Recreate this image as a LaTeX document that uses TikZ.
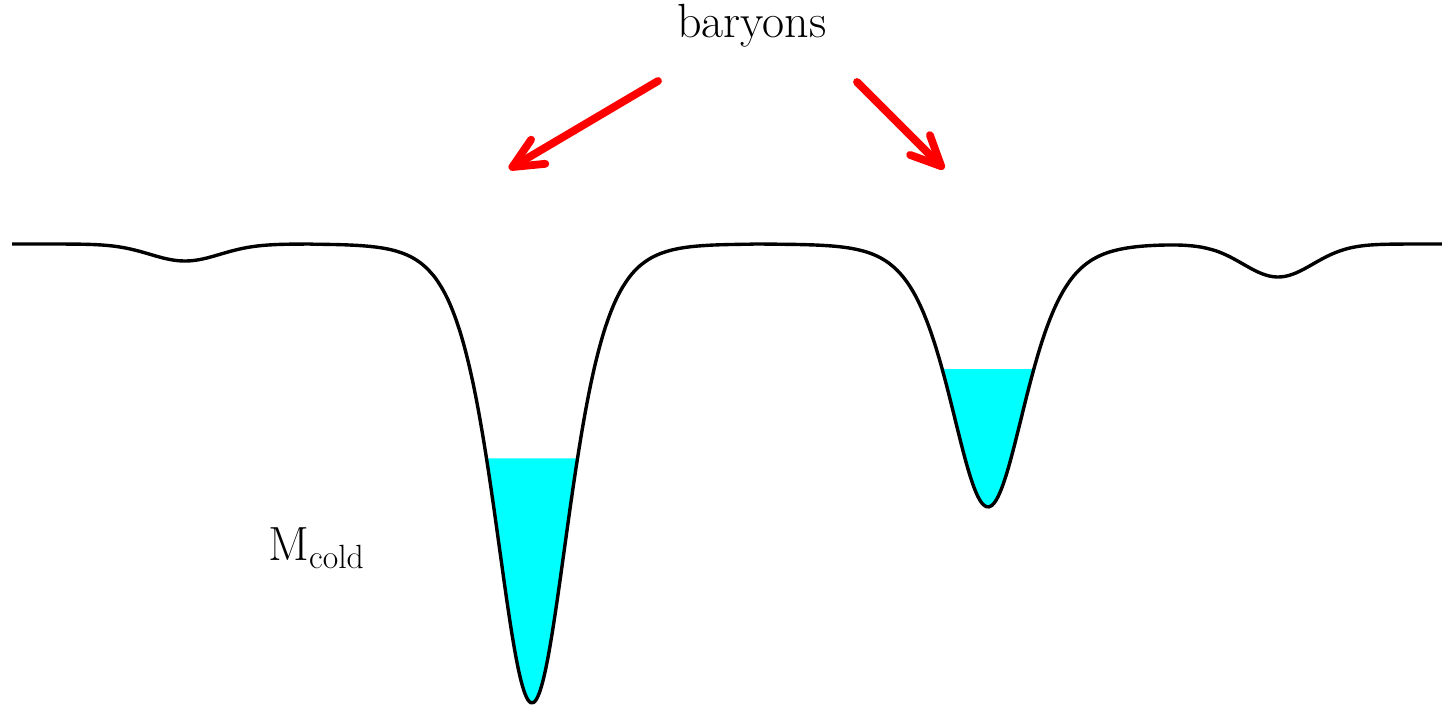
\documentclass[tikz,border=0pt]{standalone}
\usepackage{amsmath}
\usepackage{xcolor}
\usepackage{tikz}
\usetikzlibrary{positioning,arrows.meta}

\definecolor{gascyan}{RGB}{0,255,255}

\begin{document}
\begin{tikzpicture}[
  x=0.5pt, y=-0.5pt,
  declare function={
    sechsq(\u)=4*exp(-2*min(abs(\u),6))/(1+exp(-2*min(abs(\u),6)))^2;
    gauss(\u)=exp(-min(\u*\u/2,12));
    pot(\x)=244+459*sechsq((\x-532)/49)+263*sechsq((\x-988)/50)
            +17*gauss((\x-185)/35)+33*gauss((\x-1278)/35);
  },
  curve/.style={draw=black, line width=1.7pt, line join=round},
  gas/.style={fill=gascyan},
  arrow/.style={draw=red, line width=3.9pt, line cap=round,
    -{Straight Barb[length=15pt, width=14pt, round]}},
  label/.style={inner sep=0pt, font=\fontsize{24}{29}\selectfont},
]
\useasboundingbox (0,0) rectangle (1442,705);
% cold gas filling the two wells
\fill[gas] plot[domain=486.5:577.5, samples=80] (\x,{pot(\x)}) -- cycle;
\fill[gas] plot[domain=942.2:1033.8, samples=80] (\x,{pot(\x)}) -- cycle;
% potential
\draw[curve] plot[domain=12:1442, samples=500, smooth] (\x,{pot(\x)});
% labels
\node[label, anchor=base] (bar) at (752,38) {baryons};
\node[label, anchor=base west] (mcold) at (268,561) {M$_{\text{cold}}$};
% arrows
\coordinate (startL) at (658,81);
\coordinate (tipL) at (509,169);
\coordinate (startR) at (857,82);
\coordinate (tipR) at (944,169);
\draw[arrow] (startL) -- (tipL);
\draw[arrow] (startR) -- (tipR);
\end{tikzpicture}
\end{document}
